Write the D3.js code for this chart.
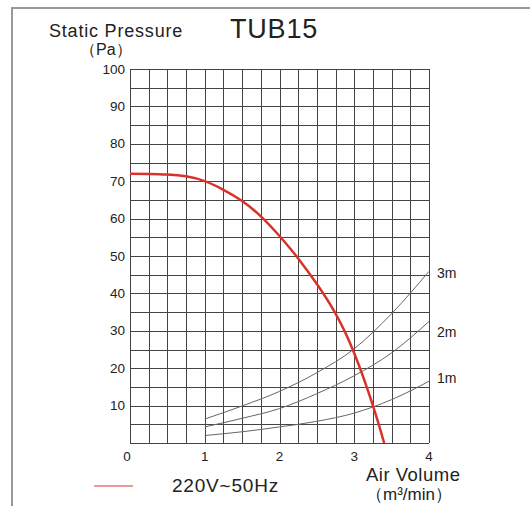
<!doctype html>
<html>
<head>
<meta charset="utf-8">
<script src="https://d3js.org/d3.v7.min.js"></script>
<style>
  body { margin: 0; background: #fff; }
  text { font-family: "Liberation Sans", Arial, sans-serif; fill: #222; }
</style>
</head>
<body>
<svg width="530" height="506"></svg>
<script>
// fan curve 220V~50Hz (air volume m3/min, static pressure Pa)
var fanQ = [0, 0.25, 0.5, 0.75, 1, 1.25, 1.5, 1.75, 2, 2.25, 2.5, 2.75, 3, 3.25, 3.4];
var fanP = [72, 71.95, 71.8, 71.3, 70, 67.7, 64.7, 60.6, 55.35, 49.35, 42.5, 34.6, 24, 10, 0];

// duct resistance curves
var sysQ = [1, 1.5, 2, 2.5, 3, 3.5, 4];
var duct1m = [2, 3, 4.3, 5.8, 8, 11.6, 16.5];
var duct2m = [4.3, 6.6, 9.2, 13.2, 18, 24.1, 32.5];
var duct3m = [6.4, 9.9, 13.8, 18.8, 25.2, 34.6, 45.9];
var ductNames = ["1m", "2m", "3m"];

var xTicks = [0, 1, 2, 3, 4];
var yTicks = [10, 20, 30, 40, 50, 60, 70, 80, 90, 100];

var svg = d3.select("svg");

var x = d3.scaleLinear().domain([0, 4]).range([130, 429]);
var y = d3.scaleLinear().domain([0, 100]).range([443, 69]);

// frame
svg.append("path")
   .attr("d", "M12,506 L12,8 L530,8")
   .attr("fill", "none")
   .attr("stroke", "#999")
   .attr("stroke-width", 2);

// grid
var grid = svg.append("g").attr("stroke", "#444").attr("stroke-width", 1);
grid.selectAll(".vx")
    .data(d3.range(0, 4.001, 0.25))
    .enter().append("line")
    .attr("x1", function(d) { return Math.round(x(d)) + 0.5; })
    .attr("x2", function(d) { return Math.round(x(d)) + 0.5; })
    .attr("y1", y(100)).attr("y2", y(0));
grid.selectAll(".hy")
    .data(d3.range(0, 100.001, 5))
    .enter().append("line")
    .attr("y1", function(d) { return Math.round(y(d)) + 0.5; })
    .attr("y2", function(d) { return Math.round(y(d)) + 0.5; })
    .attr("x1", x(0)).attr("x2", x(4));

// tick labels
svg.selectAll(".ylab")
   .data(yTicks)
   .enter().append("text")
   .attr("x", 125)
   .attr("y", function(d) { return y(d) + 4.5; })
   .attr("text-anchor", "end")
   .attr("font-size", "13.5px")
   .text(function(d) { return d; });
svg.selectAll(".xlab")
   .data(xTicks)
   .enter().append("text")
   .attr("x", function(d) { return x(d) - (d === 0 ? 3 : 0); })
   .attr("y", 461)
   .attr("text-anchor", "middle")
   .attr("font-size", "13.5px")
   .text(function(d) { return d; });

var line = d3.line()
    .x(function(d) { return x(d[0]); })
    .y(function(d) { return y(d[1]); })
    .curve(d3.curveMonotoneX);

// duct curves
var labelDy = [2, 16, 7];
[duct1m, duct2m, duct3m].forEach(function(vals, i) {
    svg.append("path")
       .datum(sysQ.map(function(q, j) { return [q, vals[j]]; }))
       .attr("d", line)
       .attr("fill", "none")
       .attr("stroke", "#666")
       .attr("stroke-width", 1);
    svg.append("text")
       .attr("x", 437)
       .attr("y", y(vals[vals.length - 1]) + labelDy[i])
       .attr("font-size", "14px")
       .text(ductNames[i]);
});

// fan curve
var fanLine = d3.line()
    .x(function(d) { return x(d[0]); })
    .y(function(d) { return y(d[1]); })
    .curve(d3.curveNatural);
svg.append("path")
   .datum(fanQ.map(function(q, j) { return [q, fanP[j]]; }))
   .attr("d", fanLine)
   .attr("fill", "none")
   .attr("stroke", "#d9322b")
   .attr("stroke-width", 2.5);

// titles
svg.append("text").attr("x", 49).attr("y", 37).attr("font-size", "18px")
   .attr("letter-spacing", "0.8px").text("Static Pressure");
svg.append("text").attr("x", 80).attr("y", 54.5).attr("font-size", "16px").text("（Pa）");
svg.append("text").attr("x", 230).attr("y", 38).attr("font-size", "27px")
   .attr("letter-spacing", "0.8px").text("TUB15");

svg.append("text").attr("x", 366).attr("y", 481).attr("font-size", "18.5px")
   .attr("letter-spacing", "0.5px").text("Air Volume");
svg.append("text").attr("x", 366).attr("y", 500).attr("font-size", "17px").text("（m³/min）");

// legend
svg.append("line")
   .attr("x1", 94).attr("x2", 133).attr("y1", 486).attr("y2", 486)
   .attr("stroke", "#d9322b").attr("stroke-width", 1);
svg.append("text").attr("x", 172).attr("y", 492).attr("font-size", "19px")
   .attr("letter-spacing", "0.8px").text("220V~50Hz");
</script>
</body>
</html>
